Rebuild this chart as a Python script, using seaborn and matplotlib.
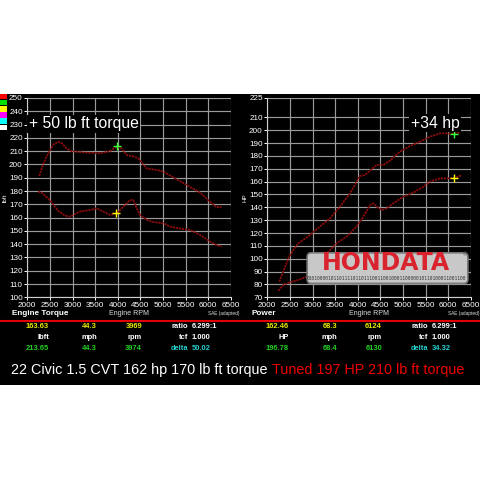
import matplotlib
matplotlib.use("Agg")
import matplotlib.pyplot as plt
import seaborn as sns
import pandas as pd
from matplotlib.patches import Rectangle, FancyBboxPatch
from matplotlib.lines import Line2D
from matplotlib.text import Annotation

# ---------------- data ----------------
rpm_tq_tuned = [2265, 2317, 2428, 2575, 2686, 2760, 2870, 2981, 3240, 3608, 3830, 3977,
                4088, 4200, 4346, 4456, 4641, 4862, 5010, 5230, 5525, 5820, 6040, 6190, 6300]
tq_tuned = [191.3, 197, 206, 215, 217, 216, 212, 210, 209, 208.4, 210, 213.4,
            212, 207, 206, 204.6, 197, 195.8, 194.6, 190.3, 184.5, 178.8, 172, 167.7, 168.2]
rpm_tq_stock = [2243, 2317, 2502, 2686, 2834, 2944, 3165, 3387, 3534, 3682, 3830, 3977, 4125,
                4272, 4346, 4420, 4493, 4641, 4789, 5010, 5157, 5378, 5600, 5820, 6040, 6190, 6300]
tq_stock = [179.5, 178.8, 173, 165, 161.5, 160.7, 164.5, 165.7, 167, 164.5, 162, 163.2, 168.2,
            173.2, 173.2, 167, 162, 158.2, 156.7, 155.7, 153.2, 151.7, 150.7, 147, 142, 139.2, 138.3]
rpm_hp_tuned = [2265, 2354, 2465, 2575, 2686, 2797, 2944, 3165, 3387, 3608, 3830, 3977, 4051,
                4160, 4272, 4420, 4567, 4715, 4936, 5157, 5378, 5600, 5820, 5967, 6115, 6226, 6262]
hp_tuned = [82.2, 90, 100.3, 106.8, 112, 114.6, 118.5, 125, 131.4, 140.5, 150.9, 160, 164.3,
            165.1, 168.5, 172.9, 172.9, 176.3, 183.3, 187.7, 191, 194.9, 197.5, 197.5, 197, 198, 199.3]
rpm_hp_stock = [2243, 2354, 2502, 2686, 2870, 3092, 3313, 3534, 3756, 3977, 4125, 4272, 4346,
                4420, 4530, 4641, 4789, 5010, 5230, 5452, 5600, 5820, 6040, 6190, 6300]
hp_stock = [75.2, 79.6, 81.7, 83.5, 86, 99, 104.2, 112, 117.2, 125, 132.7, 141.8, 143.1,
            140.5, 137.9, 139.2, 143.1, 148.3, 151.4, 156, 160, 162.5, 162.5, 163.3, 165.1]

# cursor readings (x rpm, y value)
tq_cursor_stock = (3969, 163.63)
tq_cursor_tuned = (3974, 213.65)
hp_cursor_stock = (6124, 162.46)
hp_cursor_tuned = (6130, 196.78)

rpm_ticks = [2000, 2500, 3000, 3500, 4000, 4500, 5000, 5500, 6000, 6500]
tq_ticks = list(range(100, 251, 10))
hp_ticks = list(range(70, 211, 10)) + [225]

left_rows = [["163.63", "44.3", "3969", "ratio", "6.299:1"],
             ["lbft", "mph", "rpm", "tcf", "1.000"],
             ["213.65", "44.3", "3974", "delta", "50.02"]]
right_rows = [["162.46", "68.3", "6124", "ratio", "6.299:1"],
              ["HP", "mph", "rpm", "tcf", "1.000"],
              ["196.78", "68.4", "6130", "delta", "34.32"]]

caption_white = "22 Civic 1.5 CVT 162 hp 170 lb ft torque"
caption_red = "Tuned 197 HP 210 lb ft torque"

# ---------------- style ----------------
sns.set_theme(style="dark")
plt.rcParams["font.family"] = ["Liberation Sans", "DejaVu Sans"]

W = H = 480
fig = plt.figure(figsize=(4.8, 4.8), dpi=100, facecolor="white")

def fx(px):
    return px / W

def fy(py):
    return 1 - py / H

# black panel
fig.patches.append(Rectangle((0, fy(385)), 1, fy(93.5) - fy(385), transform=fig.transFigure,
                             facecolor="black", edgecolor="none", zorder=-10))
# colour swatches
sw_cols = ["#ff0000", "#00e000", "#ffff00", "#ff00ff", "#00ffff", "#ffffff"]
for i, c in enumerate(sw_cols):
    top = 94 + i * 6.1
    fig.patches.append(Rectangle((0, fy(top + 5.3)), fx(6.7), fx(5.3), transform=fig.transFigure,
                                 facecolor=c, edgecolor="none", zorder=-5))

LINE_COL = "#8e0c0c"
GRID_COL = "#9a9a9a"

def setup(ax, yticks, ylim):
    ax.set_facecolor("black")
    ax.set_xlim(2000, 6500)
    ax.set_ylim(*ylim)
    ax.set_xticks(rpm_ticks)
    ax.set_yticks(yticks)
    ax.grid(True, color=GRID_COL, lw=0.85)
    ax.set_axisbelow(True)
    ax.tick_params(axis="both", colors="white", labelsize=5.9, length=2, width=0.7,
                   direction="out", pad=1.2, bottom=True, left=True)
    ax.tick_params(axis="x", pad=1.5)
    for s in ["top", "right"]:
        ax.spines[s].set_visible(False)
    for s in ["left", "bottom"]:
        ax.spines[s].set_color("#cfcfcf")
        ax.spines[s].set_linewidth(0.8)
    ax.set_xlabel("")
    ax.set_ylabel("")

axL = fig.add_axes([fx(27.3), fy(297.3), fx(230.7) - fx(27.3), fy(98) - fy(297.3)])
axR = fig.add_axes([fx(267.3), fy(297.3), fx(470.7) - fx(267.3), fy(98) - fy(297.3)])

dL1 = pd.DataFrame({"rpm": rpm_tq_tuned, "val": tq_tuned})
dL2 = pd.DataFrame({"rpm": rpm_tq_stock, "val": tq_stock})
dR1 = pd.DataFrame({"rpm": rpm_hp_tuned, "val": hp_tuned})
dR2 = pd.DataFrame({"rpm": rpm_hp_stock, "val": hp_stock})

for ax, d in [(axL, dL1), (axL, dL2), (axR, dR1), (axR, dR2)]:
    sns.lineplot(data=d, x="rpm", y="val", ax=ax, color=LINE_COL, lw=1.3,
                 linestyle=(0, (1.2, 0.5)), estimator=None, sort=False, zorder=3)

for ax, pt, c in [(axL, tq_cursor_tuned, "#33ff33"), (axL, tq_cursor_stock, "#ffff00"),
                  (axR, hp_cursor_tuned, "#33ff33"), (axR, hp_cursor_stock, "#ffff00")]:
    sns.scatterplot(x=[pt[0]], y=[pt[1]], ax=ax, marker="+", s=38, linewidth=1.0,
                    color=c, zorder=5)

setup(axL, tq_ticks, (100, 250))
setup(axR, hp_ticks, (70, 225))

# annotations
axL.text(2035, 230.5, "+ 50 lb ft torque", color="white", fontsize=11.3, ha="left", va="center",
         zorder=6, bbox=dict(facecolor="black", edgecolor="none", pad=1.0))
axR.text(5172, 205.5, "+34 hp", color="white", fontsize=11.3, ha="left", va="center",
         zorder=6, bbox=dict(facecolor="black", edgecolor="none", pad=1.0))

# y labels
fig.text(fx(5), fy(198), "lbft", color="white", fontsize=4.5, rotation=90, ha="center", va="center")
fig.text(fx(245), fy(198), "HP", color="white", fontsize=4.5, rotation=90, ha="center", va="center")

# HONDATA logo
logo = FancyBboxPatch((0.196, 0.07), 0.79, 0.153, boxstyle="round,pad=0,rounding_size=0.02",
                      transform=axR.transAxes, facecolor="#c8c8c8", edgecolor="#7a7a7a",
                      lw=1.2, zorder=7, clip_on=False)
axR.add_patch(logo)
axR.text(0.585, 0.172, "HONDATA", transform=axR.transAxes, color="#d9232e", fontsize=17,
         fontweight="bold", family="DejaVu Sans", ha="center", va="center", zorder=8)
axR.text(0.585, 0.095, "0101000010110111101101110011001000110000010110100011001100",
         transform=axR.transAxes, color="#333333", fontsize=3.3, family="DejaVu Sans Mono",
         ha="center", va="center", zorder=8)
axR.text(0.972, 0.213, "®", transform=axR.transAxes, color="#555555", fontsize=4,
         ha="center", va="center", zorder=8)

# bottom labels under axes
for off, name in [(0, "Engine Torque"), (240, "Power")]:
    fig.text(fx(12 + off), fy(313.3), name, color="white", fontsize=5.9, fontweight="bold",
             ha="left", va="center")
    fig.text(fx(129 + off), fy(313.3), "Engine RPM", color="#dddddd", fontsize=5.0,
             ha="center", va="center")
    fig.text(fx(239 + off), fy(314), "SAE (adapted)", color="#dddddd", fontsize=3.4,
             ha="right", va="center")

# red separator
fig.add_artist(Line2D([0, 1], [fy(320.7), fy(320.7)], transform=fig.transFigure,
                      color="#e00000", lw=1.5))

# data rows
row_y = [326.7, 337.3, 348.3]
col_right = [49, 97, 142, 188]
col_left = 192
yellow, green, cyan, white = "#e8e800", "#22d022", "#22d0d0", "#ffffff"
row_cols = [[yellow, yellow, yellow, white, white],
            [white, white, white, white, white],
            [green, green, green, cyan, cyan]]
for off, rows in [(0, left_rows), (240, right_rows)]:
    for r, (vals, cols) in enumerate(zip(rows, row_cols)):
        for c in range(4):
            fig.text(fx(col_right[c] + off), fy(row_y[r]), vals[c], color=cols[c], fontsize=5.4,
                     fontweight="bold", ha="right", va="center")
        fig.text(fx(col_left + off), fy(row_y[r]), vals[4], color=cols[4], fontsize=5.4,
                 fontweight="bold", ha="left", va="center")

# caption
t1 = fig.text(fx(10.7), fy(370), caption_white, color="white", fontsize=10.4,
              ha="left", va="center")
fig.add_artist(Annotation(caption_red, xy=(1, 0.5), xycoords=t1,
                          xytext=(3.3, 0), textcoords="offset points",
                          color="#ee0000", fontsize=10.4, ha="left", va="center"))

fig.savefig("out.png", dpi=100, facecolor="white")
